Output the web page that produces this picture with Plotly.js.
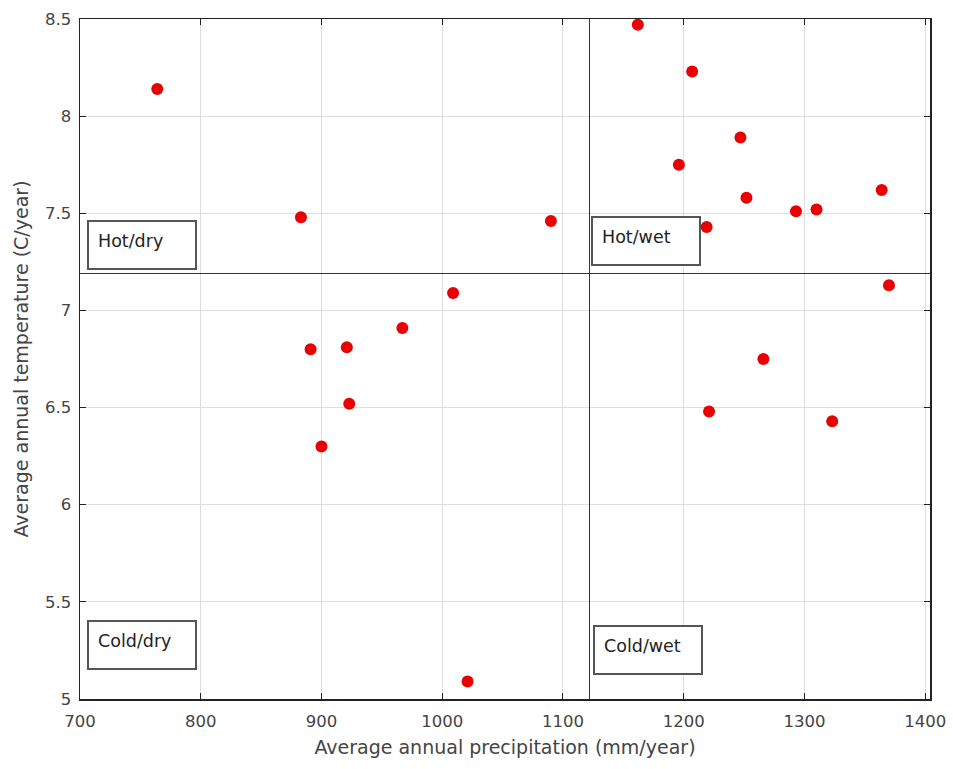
<!DOCTYPE html>
<html>
<head>
<meta charset="utf-8">
<script src="https://cdn.plot.ly/plotly-3.0.1.min.js"></script>
<style>html,body{margin:0;padding:0;background:#fff;}#chart{width:953px;height:769px;}</style>
</head>
<body>
<div id="chart"></div>
<script>
// Average annual precipitation (mm/year)
const precipitation = [764, 883, 1090, 1162, 1207, 1247, 1196, 1252, 1293, 1310, 1364, 1219, 1370,
  1266, 1221, 1323, 1009, 967, 891, 921, 923, 900, 1021];
// Average annual temperature (C/year)
const temperature = [8.14, 7.48, 7.46, 8.47, 8.23, 7.89, 7.75, 7.58, 7.51, 7.52, 7.62, 7.43, 7.13,
  6.75, 6.48, 6.43, 7.09, 6.91, 6.80, 6.81, 6.52, 6.30, 5.09];

// Quadrant thresholds
const precipThreshold = [1122, 1122];
const precipThresholdSpan = [5, 8.5];
const tempThreshold = [7.19, 7.19];
const tempThresholdSpan = [700, 1404];

// Quadrant labels
const quadrantLabels = ['Hot/dry', 'Hot/wet', 'Cold/dry', 'Cold/wet'];
const labelX = [706, 1123.5, 706, 1125];
const labelY = [7.466, 7.484, 5.408, 5.379];

const xTickVals = [700, 800, 900, 1000, 1100, 1200, 1300, 1400];
const yTickVals = [5, 5.5, 6, 6.5, 7, 7.5, 8, 8.5];

const traces = [
  {x: precipThreshold, y: precipThresholdSpan, mode: 'lines', line: {color: '#333', width: 1}, hoverinfo: 'skip'},
  {x: tempThresholdSpan, y: tempThreshold, mode: 'lines', line: {color: '#333', width: 1}, hoverinfo: 'skip'},
  {x: precipitation, y: temperature, mode: 'markers', type: 'scatter',
   marker: {color: '#ea0000', size: 12, line: {width: 0}}}
];

const annotations = quadrantLabels.map((t, i) => ({
  text: t, x: labelX[i], y: labelY[i], xref: 'x', yref: 'y',
  xanchor: 'left', yanchor: 'top', showarrow: false,
  align: 'left', valign: 'top',
  width: 88, height: 28, borderpad: 9, borderwidth: 2,
  bordercolor: '#555', bgcolor: '#fff',
  font: {family: 'DejaVu Sans, sans-serif', size: 17.5, color: '#222'}
}));

const axisCommon = {
  showline: true, linecolor: '#222', linewidth: 1.5, mirror: 'ticks',
  ticks: 'inside', ticklen: 6, tickcolor: '#222',
  showgrid: true, gridcolor: '#dedede', gridwidth: 1, zeroline: false,
  tickfont: {family: 'DejaVu Sans, sans-serif', size: 16.5, color: '#444'}
};

const layout = {
  width: 953, height: 769,
  margin: {l: 80, r: 23, t: 19, b: 70},
  paper_bgcolor: '#fff', plot_bgcolor: '#fff',
  showlegend: false,
  xaxis: Object.assign({}, axisCommon, {
    range: [700, 1404], tickvals: xTickVals, ticktext: xTickVals.map(String),
    ticklabelstandoff: 7,
    title: {text: 'Average annual precipitation (mm/year)', standoff: 10,
            font: {family: 'DejaVu Sans, sans-serif', size: 19, color: '#444'}}
  }),
  yaxis: Object.assign({}, axisCommon, {
    range: [5, 8.5], tickvals: yTickVals, ticktext: yTickVals.map(String),
    ticklabelstandoff: 4,
    title: {text: 'Average annual temperature (C/year)', standoff: 11,
            font: {family: 'DejaVu Sans, sans-serif', size: 19, color: '#444'}}
  }),
  annotations: annotations
};

Plotly.newPlot('chart', traces, layout, {displayModeBar: false, staticPlot: true});
</script>
</body>
</html>
